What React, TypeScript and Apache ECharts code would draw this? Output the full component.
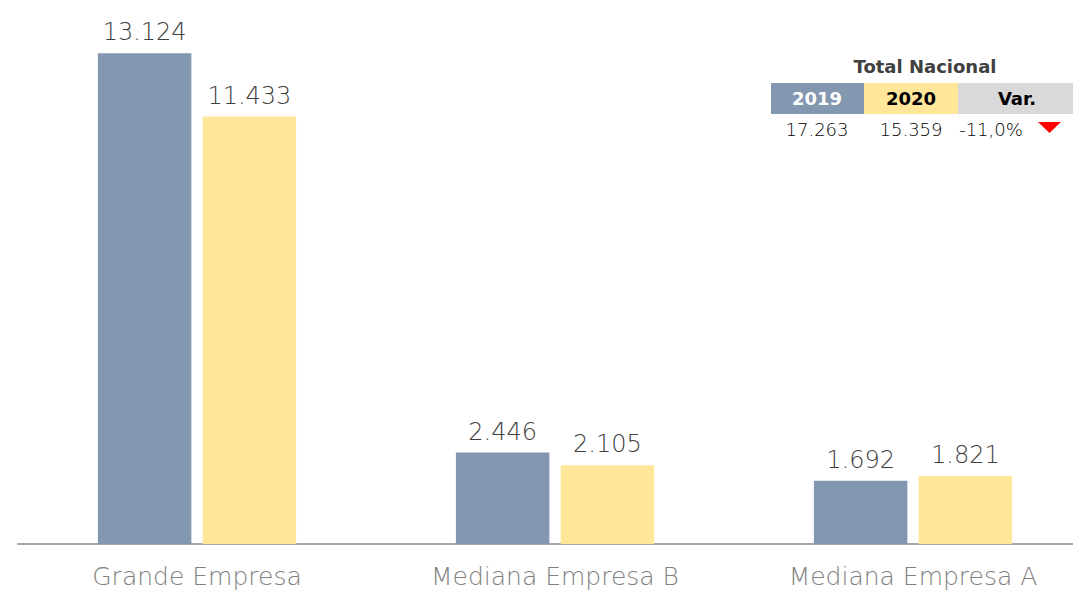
import React, { useEffect, useRef } from "react";
import * as echarts from "echarts";

const categories = ["Grande Empresa", "Mediana Empresa B", "Mediana Empresa A"];
const values2019 = [13124, 2446, 1692];
const values2020 = [11433, 2105, 1821];
const tableTitle = "Total Nacional";
const tableHeaders = ["2019", "2020", "Var."];
const tableValues = ["17.263", "15.359", "-11,0%"];

const FONT = "'DejaVu Sans', sans-serif";
const fmt = (v: number) => v.toLocaleString("de-DE");

export default function App() {
  const ref = useRef<HTMLDivElement>(null);
  useEffect(() => {
    if (!ref.current) return;
    const chart = echarts.init(ref.current, null, { renderer: "svg" });
    const labelCfg = {
      show: true,
      position: "top",
      distance: 9,
      color: "#404040",
      textBorderWidth: 0,
      fontSize: 24,
      fontFamily: FONT,
      fontWeight: 200,
      formatter: (p: any) => fmt(p.value),
    };
    const cellY = 83;
    const cellH = 31;
    chart.setOption({
      animation: false,
      grid: { left: 18, width: 1074, top: 0, bottom: 46, containLabel: false },
      xAxis: {
        type: "category",
        data: categories,
        axisLine: { lineStyle: { color: "#A6A6A6", width: 2 } },
        axisTick: { show: false },
        axisLabel: {
          color: "#808080",
          fontSize: 25,
          fontFamily: FONT,
          fontWeight: 200,
          margin: 20,
        },
      },
      yAxis: { type: "value", min: 0, max: 14550, show: false, splitLine: { show: false } },
      series: [
        {
          name: "2019",
          type: "bar",
          data: values2019,
          barWidth: 93.5,
          barGap: "12%",
          itemStyle: { color: "#8497B0" },
          label: labelCfg,
        },
        {
          name: "2020",
          type: "bar",
          data: values2020,
          barWidth: 93.5,
          itemStyle: { color: "#FFE699" },
          label: labelCfg,
        },
      ],
      graphic: [
        {
          type: "text",
          x: 925,
          y: 66,
          style: { text: tableTitle, fill: "#404040", fontSize: 18, fontWeight: "bold", fontFamily: FONT, align: "center", verticalAlign: "middle" },
        },
        { type: "rect", shape: { x: 771, y: cellY, width: 93, height: cellH }, style: { fill: "#8497B0" } },
        { type: "rect", shape: { x: 864, y: cellY, width: 94, height: cellH }, style: { fill: "#FFE699" } },
        { type: "rect", shape: { x: 958, y: cellY, width: 115, height: cellH }, style: { fill: "#D9D9D9" } },
        {
          type: "text",
          x: 817, y: cellY + cellH / 2,
          style: { text: tableHeaders[0], fill: "#FFFFFF", fontSize: 18, fontWeight: "bold", fontFamily: FONT, align: "center", verticalAlign: "middle" },
        },
        {
          type: "text",
          x: 911, y: cellY + cellH / 2,
          style: { text: tableHeaders[1], fill: "#000000", fontSize: 18, fontWeight: "bold", fontFamily: FONT, align: "center", verticalAlign: "middle" },
        },
        {
          type: "text",
          x: 1017, y: cellY + cellH / 2,
          style: { text: tableHeaders[2], fill: "#000000", fontSize: 18, fontWeight: "bold", fontFamily: FONT, align: "center", verticalAlign: "middle" },
        },
        {
          type: "text",
          x: 817, y: 129,
          style: { text: tableValues[0], fill: "#000000", fontSize: 18, fontWeight: 200, fontFamily: FONT, align: "center", verticalAlign: "middle" },
        },
        {
          type: "text",
          x: 911, y: 129,
          style: { text: tableValues[1], fill: "#000000", fontSize: 18, fontWeight: 200, fontFamily: FONT, align: "center", verticalAlign: "middle" },
        },
        {
          type: "text",
          x: 991, y: 129,
          style: { text: tableValues[2], fill: "#000000", fontSize: 18, fontWeight: 200, fontFamily: FONT, align: "center", verticalAlign: "middle" },
        },
        {
          type: "polygon",
          shape: { points: [[1038, 122], [1061, 122], [1049.5, 133]] },
          style: { fill: "#FF0000" },
        },
      ],
    });
    return () => chart.dispose();
  }, []);
  return (
    <div
      ref={ref}
      style={{ position: "fixed", left: 0, top: 0, width: 1100, height: 590, background: "#fff" }}
    />
  );
}
